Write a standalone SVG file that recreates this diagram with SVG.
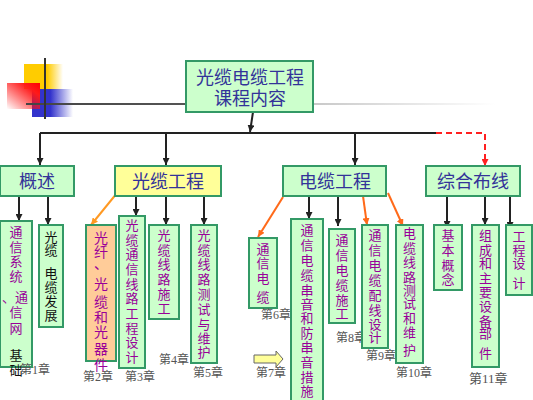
<svg xmlns="http://www.w3.org/2000/svg" width="533" height="400" viewBox="0 0 533 400">
<style>
.box{fill:#ccffcc;stroke:#339966;stroke-width:2}
.ybox{fill:#ffff99;stroke:#339966;stroke-width:2}
.obox{fill:#ffcc99;stroke:#339966;stroke-width:2}
.t1{font-family:"Noto Sans CJK SC",sans-serif;font-size:18px;fill:#333399;text-anchor:middle}
.t3{font-family:"Noto Sans CJK SC",sans-serif;font-size:13px;fill:#990099;text-anchor:middle}
.tb{fill:#111111}
.ch{font-family:"Liberation Serif","Noto Sans CJK SC",serif;font-size:12px;fill:#555555}
.k{stroke:#222222;stroke-width:2;fill:none}
.o{stroke:#ff6a1a;stroke-width:2;fill:none}
.o2{stroke:#ff9922;stroke-width:2;fill:none}
.r{stroke:#ff2020;stroke-width:2;fill:none;stroke-dasharray:6,4}
</style>
<defs>
<marker id="ak" viewBox="0 0 10 10" refX="10" refY="5" markerWidth="7" markerHeight="7" markerUnits="userSpaceOnUse" orient="auto"><path d="M0,0 L10,5 L0,10 z" fill="#222222"/></marker>
<marker id="ao" viewBox="0 0 10 10" refX="10" refY="5" markerWidth="7" markerHeight="7" markerUnits="userSpaceOnUse" orient="auto"><path d="M0,0 L10,5 L0,10 z" fill="#ff6a1a"/></marker>
<marker id="ao2" viewBox="0 0 10 10" refX="10" refY="5" markerWidth="7" markerHeight="7" markerUnits="userSpaceOnUse" orient="auto"><path d="M0,0 L10,5 L0,10 z" fill="#ff9922"/></marker>
<marker id="ar" viewBox="0 0 10 10" refX="10" refY="5" markerWidth="7" markerHeight="7" markerUnits="userSpaceOnUse" orient="auto"><path d="M0,0 L10,5 L0,10 z" fill="#ff2020"/></marker>
<linearGradient id="gy" x1="0" y1="0" x2="1" y2="0"><stop offset="0" stop-color="#ffcc00"/><stop offset="0.6" stop-color="#ffcc00"/><stop offset="1" stop-color="#ffcc00" stop-opacity="0"/></linearGradient>
<linearGradient id="gb" x1="0" y1="0" x2="1" y2="0"><stop offset="0" stop-color="#3333cc"/><stop offset="0.45" stop-color="#3333cc"/><stop offset="1" stop-color="#3333cc" stop-opacity="0"/></linearGradient>
<linearGradient id="gr" x1="1" y1="0" x2="0" y2="1"><stop offset="0" stop-color="#ff0000"/><stop offset="0.25" stop-color="#ff1a1a"/><stop offset="1" stop-color="#ff0000" stop-opacity="0"/></linearGradient>
<linearGradient id="gl" gradientUnits="userSpaceOnUse" x1="26" y1="0" x2="495" y2="0"><stop offset="0" stop-color="#444444"/><stop offset="0.34" stop-color="#555555"/><stop offset="0.61" stop-color="#c8c8c8"/><stop offset="1" stop-color="#ffffff"/></linearGradient>
</defs>
<rect width="533" height="400" fill="#ffffff"/>
<g id="decoration">
<rect x="24" y="64" width="39" height="25" fill="url(#gy)"/>
<rect x="32" y="89" width="41" height="28" fill="url(#gb)"/>
<rect x="7" y="83" width="33" height="26" fill="url(#gr)"/>
<line x1="26" y1="104" x2="495" y2="104" stroke="url(#gl)" stroke-width="2"/>
<line x1="45" y1="58" x2="45" y2="119" stroke="#333333" stroke-width="2"/>
</g>
<g id="connectors">
<line class="k" x1="253" y1="112" x2="250" y2="132" marker-end="url(#ak)"/>
<line class="k" x1="40" y1="133" x2="436" y2="133"/>
<path class="r" d="M436,133 H485 V166" marker-end="url(#ar)"/>
<line class="k" x1="40" y1="133" x2="40" y2="165" marker-end="url(#ak)"/>
<line class="k" x1="166" y1="133" x2="166" y2="165" marker-end="url(#ak)"/>
<line class="k" x1="355" y1="133" x2="355" y2="165" marker-end="url(#ak)"/>
<line class="k" x1="19" y1="196" x2="19" y2="221" marker-end="url(#ak)"/>
<line class="k" x1="48" y1="196" x2="48" y2="225" marker-end="url(#ak)"/>
<line class="o2" x1="117" y1="193" x2="91" y2="225" marker-end="url(#ao2)"/>
<line class="k" x1="136" y1="196" x2="136" y2="216" marker-end="url(#ak)"/>
<line class="k" x1="166" y1="196" x2="166" y2="225" marker-end="url(#ak)"/>
<line class="k" x1="204" y1="196" x2="204" y2="225" marker-end="url(#ak)"/>
<line class="o" x1="283" y1="197" x2="258" y2="237" marker-end="url(#ao)"/>
<line class="k" x1="309" y1="196" x2="309" y2="219" marker-end="url(#ak)"/>
<line class="k" x1="338" y1="196" x2="338" y2="226" marker-end="url(#ak)"/>
<line class="o" x1="363" y1="196" x2="367" y2="225" marker-end="url(#ao)"/>
<line class="o" x1="388" y1="193" x2="403" y2="226" marker-end="url(#ao)"/>
<line class="k" x1="447" y1="196" x2="447" y2="228" marker-end="url(#ak)"/>
<line class="k" x1="485" y1="192" x2="485" y2="225" marker-end="url(#ak)"/>
<line class="k" x1="510" y1="196" x2="510" y2="229" marker-end="url(#ak)"/>
</g>
<g id="title">
<rect class="box" x="186" y="61" width="127" height="51"/>
<text class="t1"><tspan x="250" y="84">光缆电缆工程</tspan><tspan x="250" y="105">课程内容</tspan></text>
</g>
<g id="n-gaishu">
<rect class="box" x="0" y="166" width="74" height="30"/>
<text class="t1" x="37" y="188">概述</text>
</g>
<g id="n-guanglan">
<rect class="ybox" x="115" y="166" width="106" height="30"/>
<text class="t1" x="168" y="188">光缆工程</text>
</g>
<g id="n-dianlan">
<rect class="box" x="283" y="166" width="103" height="30"/>
<text class="t1" x="335" y="188">电缆工程</text>
</g>
<g id="n-zonghe">
<rect class="box" x="426" y="166" width="94" height="30"/>
<text class="t1" x="473" y="188">综合布线</text>
</g>
<g id="c1">
<rect class="box" x="0" y="221" width="32" height="146"/>
<text class="t3"><tspan x="16" y="237">通</tspan><tspan x="16" y="252">信</tspan><tspan x="16" y="266">系</tspan><tspan x="16" y="281">统</tspan><tspan x="15" y="302">、通</tspan><tspan x="16" y="317">信</tspan><tspan x="16" y="333">网</tspan><tspan class="tb" x="16" y="360">基</tspan><tspan class="tb" x="16" y="375">础</tspan></text>
<text class="ch" x="20" y="374">第1章</text>
</g>
<g id="c2">
<rect class="box" x="39" y="225" width="24" height="102"/>
<text class="t3 tb"><tspan x="51" y="242">光</tspan><tspan x="51" y="255">缆</tspan><tspan x="51" y="278">电</tspan><tspan x="51" y="292">缆</tspan><tspan x="51" y="306">发</tspan><tspan x="51" y="320">展</tspan></text>
</g>
<g id="c3">
<rect class="obox" x="86" y="225" width="30" height="136"/>
<text class="t3" style="font-size:14px"><tspan x="101" y="243">光</tspan><tspan x="101" y="257">纤</tspan><tspan x="101" y="269">、</tspan><tspan x="101" y="289">光</tspan><tspan x="101" y="307">缆</tspan><tspan x="101" y="322">和</tspan><tspan x="101" y="337">光</tspan><tspan x="101" y="354">器</tspan><tspan x="101" y="370">件</tspan></text>
<text class="ch" x="83" y="381">第2章</text>
</g>
<g id="c4">
<rect class="box" x="119" y="216" width="26" height="152"/>
<text class="t3"><tspan x="132" y="230">光</tspan><tspan x="132" y="245">缆</tspan><tspan x="132" y="259">通</tspan><tspan x="132" y="274">信</tspan><tspan x="132" y="289">线</tspan><tspan x="132" y="303">路</tspan><tspan x="132" y="318">工</tspan><tspan x="132" y="333">程</tspan><tspan x="132" y="347">设</tspan><tspan x="132" y="362">计</tspan></text>
<text class="ch" x="125" y="381">第3章</text>
</g>
<g id="c5">
<rect class="box" x="149" y="225" width="30" height="94"/>
<text class="t3"><tspan x="164" y="240">光</tspan><tspan x="164" y="255">缆</tspan><tspan x="164" y="269">线</tspan><tspan x="164" y="284">路</tspan><tspan x="164" y="299">施</tspan><tspan x="164" y="313">工</tspan></text>
<text class="ch" x="159" y="364">第4章</text>
</g>
<g id="c6">
<rect class="box" x="191" y="225" width="26" height="138"/>
<text class="t3"><tspan x="204" y="240">光</tspan><tspan x="204" y="255">缆</tspan><tspan x="204" y="269">线</tspan><tspan x="204" y="284">路</tspan><tspan x="204" y="299">测</tspan><tspan x="204" y="314">试</tspan><tspan x="204" y="329">与</tspan><tspan x="204" y="343">维</tspan><tspan x="204" y="357">护</tspan></text>
<text class="ch" x="193" y="377">第5章</text>
</g>
<g id="c7">
<rect class="box" x="249" y="238" width="28" height="70"/>
<text class="t3"><tspan x="263" y="254">通</tspan><tspan x="263" y="268">信</tspan><tspan x="263" y="283">电</tspan><tspan x="263" y="302">缆</tspan></text>
<text class="ch" x="261" y="319">第6章</text>
</g>
<g id="c8">
<rect class="box" x="291" y="219" width="32" height="184"/>
<text class="t3"><tspan x="307" y="235">通</tspan><tspan x="307" y="250">信</tspan><tspan x="307" y="265">电</tspan><tspan x="307" y="280">缆</tspan><tspan x="307" y="295">串</tspan><tspan x="307" y="309">音</tspan><tspan x="307" y="323">和</tspan><tspan x="307" y="338">防</tspan><tspan x="307" y="352">串</tspan><tspan x="307" y="367">音</tspan><tspan x="307" y="382">措</tspan><tspan x="307" y="396">施</tspan></text>
</g>
<g id="c9">
<rect class="box" x="329" y="229" width="26" height="94"/>
<text class="t3"><tspan x="342" y="245">通</tspan><tspan x="342" y="260">信</tspan><tspan x="342" y="275">电</tspan><tspan x="342" y="290">缆</tspan><tspan x="342" y="305">施</tspan><tspan x="342" y="318">工</tspan></text>
<text class="ch" x="336" y="342">第8章</text>
</g>
<g id="c10">
<rect class="box" x="362" y="225" width="26" height="123"/>
<text class="t3"><tspan x="375" y="240">通</tspan><tspan x="375" y="255">信</tspan><tspan x="375" y="270">电</tspan><tspan x="375" y="285">缆</tspan><tspan x="375" y="300">配</tspan><tspan x="375" y="315">线</tspan><tspan x="375" y="329">设</tspan><tspan x="375" y="342">计</tspan></text>
<text class="ch" x="366" y="360">第9章</text>
</g>
<g id="c11">
<rect class="box" x="396" y="225" width="27" height="138"/>
<text class="t3"><tspan x="409.5" y="238">电</tspan><tspan x="409.5" y="253">缆</tspan><tspan x="409.5" y="267">线</tspan><tspan x="409.5" y="282">路</tspan><tspan x="409.5" y="295">测</tspan><tspan x="409.5" y="308">试</tspan><tspan x="409.5" y="323">和</tspan><tspan x="409.5" y="337">维</tspan><tspan x="409.5" y="355">护</tspan></text>
<text class="ch" x="396" y="377">第10章</text>
</g>
<g id="c12">
<rect class="box" x="434" y="225" width="28" height="65"/>
<text class="t3"><tspan x="448" y="240">基</tspan><tspan x="448" y="255">本</tspan><tspan x="448" y="270">概</tspan><tspan x="448" y="284">念</tspan></text>
</g>
<g id="c13">
<rect class="box" x="472" y="225" width="27" height="142"/>
<text class="t3"><tspan x="485.5" y="240">组</tspan><tspan x="485.5" y="255">成</tspan><tspan x="485.5" y="268">和</tspan><tspan x="485.5" y="283">主</tspan><tspan x="485.5" y="297">要</tspan><tspan x="485.5" y="311">设</tspan><tspan x="485.5" y="326">备</tspan><tspan x="485.5" y="338">部</tspan><tspan x="485.5" y="358">件</tspan></text>
<text class="ch" x="469" y="383" style="font-size:13px">第11章</text>
</g>
<g id="c14">
<rect class="box" x="506" y="225" width="26" height="70"/>
<text class="t3"><tspan x="519" y="241">工</tspan><tspan x="519" y="255">程</tspan><tspan x="519" y="268">设</tspan><tspan x="519" y="288">计</tspan></text>
</g>
<g id="ch7">
<polygon points="254,355 276,355 276,351 283,359 276,367 276,363 254,363" fill="#ffff99" stroke="#666666" stroke-width="1"/>
<text class="ch" x="256" y="377">第7章</text>
</g>
</svg>
